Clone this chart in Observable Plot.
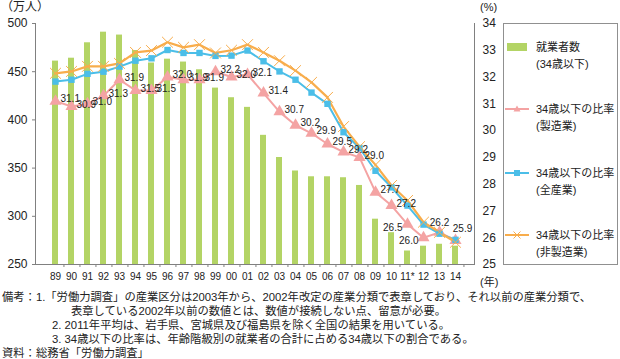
<!DOCTYPE html>
<html><head><meta charset="utf-8">
<script src="https://cdn.jsdelivr.net/npm/d3@7"></script>
<script src="https://cdn.jsdelivr.net/npm/@observablehq/plot@0.6"></script>
<style>
body{margin:0;background:#fff;font-family:"Liberation Sans","Noto Sans CJK JP",sans-serif;color:#222;}
#wrap{position:relative;width:620px;height:359px;overflow:hidden}
.abs{position:absolute;white-space:nowrap;line-height:1}
</style></head><body><div id="wrap"></div>
<script>
const years = ["89","90","91","92","93","94","95","96","97","98","99","00","01","02","03","04","05","06","07","08","09","10","11*","12","13","14"];
const employed = [461,464,480,491,488,472,459,463,460,452,433,423,413,384,361,347,341,341,340,332,297,283,264,269,271,269];
const mfgRate = [31.1,30.9,31.0,31.3,31.9,31.5,31.5,32.0,31.9,31.9,32.2,32.0,32.1,31.4,30.7,30.2,29.9,29.5,29.2,29.0,27.7,27.2,26.5,26.0,26.2,25.9];
const allRate = [31.83,31.90,32.12,32.20,32.39,32.61,32.70,33.01,32.90,32.90,32.79,32.80,32.99,32.59,32.21,31.90,31.42,31.00,29.94,29.35,28.50,27.88,27.20,26.49,26.15,25.92];
const nonMfgRate = [32.14,32.21,32.40,32.40,32.51,32.92,32.99,33.30,33.11,33.21,32.90,33.00,33.21,32.92,32.61,32.24,31.80,31.24,30.15,29.40,28.72,27.95,27.39,26.58,26.20,25.83];
const leftTicks = [250,300,350,400,450,500];
const rightTicks = [25,26,27,28,29,30,31,32,33,34];
const legendLabels = [["就業者数","(34歳以下)"],["34歳以下の比率","(製造業)"],["34歳以下の比率","(全産業)"],["34歳以下の比率","(非製造業)"]];
const notes = [
  "備考：1.「労働力調査」の産業区分は2003年から、2002年改定の産業分類で表章しており、それ以前の産業分類で、",
  "表章している2002年以前の数値とは、数値が接続しない点、留意が必要。",
  "2. 2011年平均は、岩手県、宮城県及び福島県を除く全国の結果を用いている。",
  "3. 34歳以下の比率は、年齢階級別の就業者の合計に占める34歳以下の割合である。",
  "資料：総務省「労働力調査」"
];

const C = {bar:"#b3d465", mfg:"#f4a3a3", all:"#4bbee8", non:"#f8ad4c", axis:"#808080"};
const L0=250, L1=500, R0=25, R1=34;
const toL = r => L0 + (r - R0) * (L1 - L0) / (R1 - R0);
const fromL = v => R0 + (v - L0) * (R1 - R0) / (L1 - L0);
const rows = years.map((y,i)=>({year:y, emp:employed[i], mfg:mfgRate[i], all:allRate[i], non:nonMfgRate[i]}));

const W=620, H=290, mL=35, mR=146, mT=23, mB=26;
const half = (W-mL-mR)/years.length/2;
const lblFont = "'Liberation Sans Narrow','Liberation Sans',sans-serif";

const chart = Plot.plot({
  width:W, height:H, marginLeft:mL, marginRight:mR, marginTop:mT, marginBottom:mB,
  style:{fontFamily:"'Liberation Sans','Noto Sans CJK JP',sans-serif", fontSize:"12px", background:"transparent", color:"#222", overflow:"visible"},
  x:{type:"band", domain:years, padding:0},
  y:{domain:[L0,L1]},
  marks:[
    Plot.barY(rows,{x:"year", y1:L0, y2:"emp", fill:C.bar, insetLeft:5, insetRight:5}),
    Plot.ruleY([L0],{stroke:C.axis}),
    Plot.frame({anchor:"left", stroke:C.axis}),
    Plot.frame({anchor:"right", stroke:C.axis}),
    Plot.axisY({ticks:leftTicks, tickSize:3, tickPadding:5, fontSize:12, label:null, stroke:C.axis}),
    Plot.axisY({anchor:"right", ticks:rightTicks.map(toL), tickFormat:v=>String(Math.round(fromL(v))), tickSize:0, tickPadding:8, fontSize:12, label:null}),
    Plot.axisX({tickSize:0, tickPadding:8, fontSize:10, fontFamily:lblFont, label:null}),
    Plot.axisX({tickSize:3, dx:half, tickFormat:()=>"", stroke:C.axis, label:null}),
    Plot.line(rows,{x:"year", y:d=>toL(d.mfg), stroke:C.mfg, strokeWidth:2}),
    Plot.dot(rows,{x:"year", y:d=>toL(d.mfg), symbol:"triangle", fill:C.mfg, r:4.5}),
    Plot.line(rows,{x:"year", y:d=>toL(d.all), stroke:C.all, strokeWidth:2}),
    Plot.line(rows,{x:"year", y:d=>toL(d.non), stroke:C.non, strokeWidth:2.2}),
    Plot.dot(rows,{x:"year", y:d=>toL(d.all), symbol:"square", fill:C.all, r:3.6}),
    Plot.dot(rows,{x:"year", y:d=>toL(d.non), symbol:"times", stroke:C.non, r:5, strokeWidth:1}),
    Plot.text(rows,{filter:(d,i)=>i<22, x:"year", y:d=>toL(d.mfg), text:d=>d.mfg.toFixed(1), textAnchor:"start", dx:5, dy:-2, fontSize:10, fontFamily:lblFont, fill:"#222"}),
    Plot.text(rows,{filter:(d,i)=>i===22||i===23, x:"year", y:d=>toL(d.mfg), text:d=>d.mfg.toFixed(1), textAnchor:"end", dx:-5, dy:3, fontSize:10, fontFamily:lblFont, fill:"#222"}),
    Plot.text(rows,{filter:(d,i)=>i===24, x:"year", y:d=>toL(d.mfg), text:d=>d.mfg.toFixed(1), textAnchor:"middle", dy:-10, fontSize:10, fontFamily:lblFont, fill:"#222"}),
    Plot.text(rows,{filter:(d,i)=>i===25, x:"year", y:d=>toL(d.mfg), text:d=>d.mfg.toFixed(1), textAnchor:"middle", dx:7, dy:-12, fontSize:10, fontFamily:lblFont, fill:"#222"})
  ]
});
chart.style.position="absolute"; chart.style.left="0"; chart.style.top="0";
const wrap = document.getElementById("wrap");
wrap.appendChild(chart);

function span(txt, x, y, size, extra){
  const s=document.createElement("span"); s.className="abs"; s.textContent=txt;
  s.style.left=x+"px"; s.style.top=(y - size/2)+"px"; s.style.fontSize=size+"px";
  if(extra) Object.assign(s.style, extra);
  wrap.appendChild(s); return s;
}
// unit labels
span("（万人）", 1, 7, 12);
span("(%)", 480, 7, 11);
span("(年)", 480, 282, 11);

// legend
const box=document.createElement("div");
Object.assign(box.style,{position:"absolute",left:"503px",top:"23px",width:"115px",height:"242px",border:"1px solid #909090",boxSizing:"border-box"});
wrap.appendChild(box);
const legY=[47,109,173,235];
const svgNS="http://www.w3.org/2000/svg";
const sw=document.createElementNS(svgNS,"svg");
sw.setAttribute("width",620); sw.setAttribute("height",359);
Object.assign(sw.style,{position:"absolute",left:"0",top:"0",pointerEvents:"none"});
function el(tag,attrs){const e=document.createElementNS(svgNS,tag);for(const k in attrs)e.setAttribute(k,attrs[k]);sw.appendChild(e);return e;}
el("rect",{x:507,y:legY[0]-4,width:20,height:8,fill:C.bar});
el("line",{x1:505,x2:529,y1:legY[1],y2:legY[1],stroke:C.mfg,"stroke-width":2});
el("path",{d:`M517,${legY[1]-3.5}L520.5,${legY[1]+2.5}L513.5,${legY[1]+2.5}Z`,fill:C.mfg});
el("line",{x1:505,x2:529,y1:legY[2],y2:legY[2],stroke:C.all,"stroke-width":2});
el("rect",{x:514,y:legY[2]-3,width:6,height:6,fill:C.all});
el("line",{x1:505,x2:529,y1:legY[3],y2:legY[3],stroke:C.non,"stroke-width":2});
el("path",{d:`M513.5,${legY[3]-3.5}L520.5,${legY[3]+3.5}M520.5,${legY[3]-3.5}L513.5,${legY[3]+3.5}`,stroke:C.non,"stroke-width":1});
wrap.appendChild(sw);
legendLabels.forEach((lb,i)=>{ span(lb[0],536,legY[i],11); span(lb[1],536,legY[i]+17,11); });

// notes
const noteX=[2,71,52,52,2], noteY=[298,312,326,340,354];
notes.forEach((t,i)=>span(t,noteX[i],noteY[i],11.3));
</script></body></html>
